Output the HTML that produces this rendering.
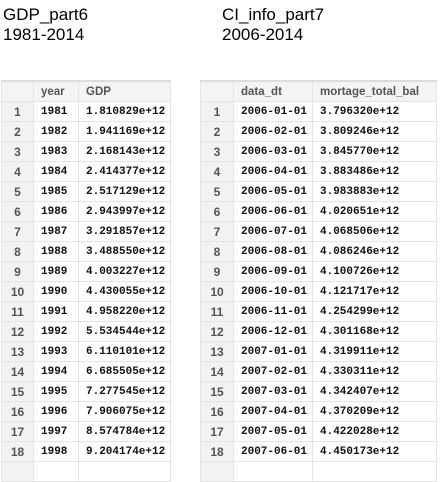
<!DOCTYPE html>
<html><head><meta charset="utf-8"><style>
body{margin:0;width:443px;height:462px;background:#fff;position:relative;overflow:hidden;font-family:"Liberation Sans",sans-serif}
.t{position:absolute;font-size:17px;line-height:20px;color:#000}
table{position:absolute;border-collapse:collapse;top:80px;font-family:"Liberation Mono",monospace;font-size:11px;color:#111}
td,th{border:1px solid #e4e4e4;height:19px;padding:0 0 0 7px;text-align:left;white-space:nowrap;font-weight:bold}
th{font-family:"Liberation Sans",sans-serif;font-size:11.5px;color:#555;background:#f4f4f4;border-top:2px solid #ddd}
td.i{background:#f2f2f2;font-family:"Liberation Sans",sans-serif;color:#555;font-size:12px;text-align:center;padding:0}
</style></head><body>
<div class="t" style="left:3px;top:5px">GDP_part6<br>1981-2014</div>
<div class="t" style="left:222px;top:5px">CI_info_part7<br>2006-2014</div>
<table id="lt" style="left:1px;width:170px"><colgroup><col style="width:32px"><col style="width:45px"><col></colgroup>
<tr><th></th><th>year</th><th>GDP</th></tr></table>
<table id="rt" style="left:200px;width:237px"><colgroup><col style="width:33px"><col style="width:79px"><col></colgroup>
<tr><th></th><th>data_dt</th><th>mortage_total_bal</th></tr></table>
<script>
const years=[1981,1982,1983,1984,1985,1986,1987,1988,1989,1990,1991,1992,1993,1994,1995,1996,1997,1998];
const gdp=["1.810829e+12","1.941169e+12","2.168143e+12","2.414377e+12","2.517129e+12","2.943997e+12","3.291857e+12","3.488550e+12","4.003227e+12","4.430055e+12","4.958220e+12","5.534544e+12","6.110101e+12","6.685505e+12","7.277545e+12","7.906075e+12","8.574784e+12","9.204174e+12"];
const dates=["2006-01-01","2006-02-01","2006-03-01","2006-04-01","2006-05-01","2006-06-01","2006-07-01","2006-08-01","2006-09-01","2006-10-01","2006-11-01","2006-12-01","2007-01-01","2007-02-01","2007-03-01","2007-04-01","2007-05-01","2007-06-01"];
const bal=["3.796320e+12","3.809246e+12","3.845770e+12","3.883486e+12","3.983883e+12","4.020651e+12","4.068506e+12","4.086246e+12","4.100726e+12","4.121717e+12","4.254299e+12","4.301168e+12","4.319911e+12","4.330311e+12","4.342407e+12","4.370209e+12","4.422028e+12","4.450173e+12"];
function fill(id,a,b,name){const t=document.getElementById(id);
a.forEach((v,i)=>{const r=t.insertRow();


[i+1,v,b[i]].forEach((x,j)=>{const c=r.insertCell();c.textContent=x;if(j==0)c.className='i';});});
const r=t.insertRow();r.innerHTML='<td class="i"></td><td></td><td></td>';}
fill('lt',years,gdp,'gdp');fill('rt',dates,bal,'mortgage');
</script>
</body></html>
